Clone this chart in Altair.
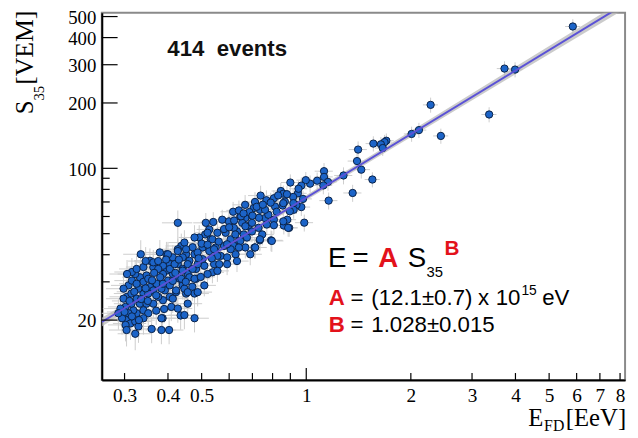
import altair as alt
import pandas as pd

# ---- data -----------------------------------------------------------------
E_FD = [5.85, 3.72, 3.99, 2.28, 3.36, 2.44, 2.01, 2.11, 1.70, 1.68, 1.64, 1.66, 1.56, 1.41, 1.40, 1.44, 1.55, 1.36, 1.28, 1.16,
        1.125, 1.125, 1.155, 1.12, 1.075, 1.026, 0.997, 0.968, 0.946, 0.979, 0.968, 0.987, 0.937, 0.845, 0.859, 0.739, 0.768, 0.807, 0.813, 0.868,
        0.855, 0.917, 0.918, 0.920, 0.882, 0.893, 0.862, 0.807, 0.807, 0.792, 0.747, 0.735, 0.710, 0.690, 0.761, 0.778, 0.736, 0.706, 0.690, 0.668,
        0.646, 0.654, 0.680, 0.698, 0.729, 0.632, 0.661, 0.640, 0.619, 0.668, 0.626, 0.427, 0.514, 0.540, 0.599, 0.649, 0.686, 0.526, 0.512, 0.555,
        0.586, 0.619, 0.668, 0.492, 0.503, 0.526, 0.549, 0.580, 0.606, 0.646, 0.675, 0.640, 0.567, 0.592, 0.537, 0.543, 0.509, 0.482, 0.477, 0.451,
        0.437, 0.427, 0.413, 0.396, 0.405, 0.427, 0.441, 0.461, 0.456, 0.482, 0.441, 0.422, 0.477, 0.400, 0.392, 0.413, 0.396, 0.322, 0.359, 0.403,
        0.386, 0.435, 0.308, 0.315, 0.305, 0.302, 0.303, 0.312, 0.322, 0.325, 0.318, 0.332, 0.325, 0.340, 0.355, 0.371, 0.363, 0.383, 0.405, 0.422,
        0.441, 0.451, 0.405, 0.409, 0.387, 0.347, 0.340, 0.351, 0.387, 0.405, 0.387, 0.418, 0.441, 0.456, 0.432, 0.461, 0.355, 0.363, 0.347, 0.332,
        0.322, 0.334, 0.315, 0.305, 0.325, 0.363, 0.379, 0.400, 0.427, 0.446, 0.477, 0.487, 0.509, 0.477, 0.437, 0.446, 0.487, 0.446, 0.477, 0.383,
        0.302, 0.295, 0.555, 0.606, 0.531, 0.543, 0.520, 0.761, 0.859, 0.897, 0.859, 0.887, 0.796, 0.736, 0.713, 0.383, 0.456, 0.298, 0.292, 0.308,
        0.314, 0.329, 0.340, 0.351, 0.375, 0.363, 0.370, 0.340, 0.329, 0.304, 0.387, 0.413, 0.427, 0.456, 0.375, 0.413, 0.340, 0.325, 0.314, 0.351,
        0.375, 0.471, 0.503, 0.520, 0.562, 0.592, 0.625, 0.698, 0.731, 0.770, 0.822, 0.712, 0.667, 0.616, 0.573, 0.537, 0.471, 0.441, 0.487, 0.451,
        0.555, 0.592, 0.632, 0.497, 0.298, 0.345, 0.288,
        0.310, 0.320, 0.335, 0.345, 0.360, 0.370, 0.380, 0.390, 0.300, 0.315, 0.330, 0.350, 0.365, 0.395, 0.420, 0.430,
        0.450, 0.470, 0.490, 0.500, 0.520, 0.535, 0.560, 0.580, 0.600, 0.620, 0.640, 0.660, 0.700, 0.720, 0.750, 0.790,
        0.830, 0.880, 0.950, 0.900]
S35 = [450, 288, 285, 196, 177, 141, 144, 150, 134, 132, 129, 124, 130, 122, 108, 98.6, 88.8, 77.0, 92.7, 71.0,
       97.0, 91.3, 86.6, 83.4, 87.7, 85.0, 88.2, 83.3, 76.7, 72.3, 66.3, 56.2, 67.7, 78.6, 76.4, 74.9, 71.3, 72.8, 66.7, 70.3,
       67.4, 73.8, 69.1, 64.4, 58.0, 53.2, 54.5, 58.0, 54.7, 46.6, 49.6, 46.6, 43.2, 40.2, 59.0, 61.1, 64.4, 65.6, 61.1, 59.0,
       60.1, 56.1, 54.1, 56.1, 53.2, 51.3, 49.6, 46.3, 43.9, 43.2, 40.2, 56.1, 56.1, 56.6, 57.0, 60.1, 62.9, 52.3, 49.6, 50.5,
       50.5, 53.2, 54.1, 48.0, 43.2, 41.6, 43.2, 43.9, 42.4, 46.3, 48.0, 43.2, 39.5, 38.9, 33.2, 36.2, 28.9, 34.4, 40.2, 40.2,
       43.9, 42.4, 38.9, 40.2, 36.2, 36.2, 34.4, 37.5, 32.6, 31.0, 29.4, 26.9, 26.5, 30.4, 27.4, 32.6, 33.8, 17.3, 18.2, 18.0,
       20.4, 21.0, 28.9, 30.4, 25.6, 23.0, 20.0, 19.3, 19.7, 21.5, 22.2, 23.8, 25.1, 26.5, 28.4, 29.4, 27.4, 27.9, 28.9, 27.4,
       28.9, 26.5, 25.6, 23.0, 24.7, 23.8, 22.2, 21.5, 32.6, 34.4, 35.6, 36.2, 33.8, 36.2, 31.0, 31.5, 37.5, 35.0, 32.1, 31.5,
       32.6, 40.2, 33.3, 32.6, 34.4, 36.9, 41.0, 40.2, 41.6, 45.5, 48.0, 41.0, 35.6, 31.0, 31.0, 27.9, 26.9, 21.1, 20.4, 20.4,
       19.0, 20.4, 39.5, 47.1, 47.1, 42.4, 50.5, 64.4, 69.1, 63.4, 57.0, 53.2, 46.3, 47.1, 43.2, 18.0, 26.9, 25.1, 22.6, 21.5,
       23.8, 27.9, 30.0, 26.5, 25.6, 23.8, 22.1, 20.4, 18.7, 18.0, 29.4, 25.1, 22.6, 23.8, 34.4, 30.3, 35.1, 29.4, 26.5, 31.0,
       37.4, 34.4, 38.2, 32.6, 36.2, 44.7, 49.6, 51.2, 59.2, 55.1, 63.1, 70.0, 67.9, 63.1, 58.0, 47.1, 43.3, 38.9, 36.2, 42.4,
       33.7, 36.2, 37.4, 31.6, 27.9, 37.4, 21.5,
       24.5, 27.0, 25.0, 28.0, 30.5, 26.0, 31.5, 22.5, 21.8, 20.8, 20.0, 24.5, 33.0, 38.0, 33.0, 38.0,
       30.0, 28.5, 38.5, 45.0, 44.5, 38.5, 46.0, 52.5, 53.5, 57.5, 64.0, 62.0, 60.5, 66.5, 68.0, 69.5,
       75.0, 76.0, 80.5, 86.0]

# relative half-lengths of the grey error bars, read per energy band
ERR_EDGES = [0.35, 0.5, 0.8, 1.5]            # EeV
ERR_REL_E = [0.11, 0.10, 0.08, 0.06, 0.05]
ERR_REL_S = [0.16, 0.14, 0.11, 0.09, 0.08]

# calibration fit E = A S35^B, end points of the drawn line and its grey band
FIT_E = [0.258, 8.27]
FIT_S = [19.6, 572]
BAND_E = [0.258, 0.6, 1.5, 4.0, 8.27]
BAND_LO = [18.7, 43.5, 105.5, 271, 543]
BAND_HI = [20.5, 45.7, 112, 294, 600]

Y_MAJOR = [20, 100, 200, 300, 400, 500]
Y_MINOR = [30, 40, 50, 60, 70, 80, 90]
X_MAJOR = [1]
X_MINOR = [0.3, 0.4, 0.5, 0.6, 0.7, 0.8, 0.9, 2, 3, 4, 5, 6, 7, 8]
X_LABELS = [0.3, 0.4, 0.5, 1, 2, 3, 4, 5, 6, 7, 8]

# ---- tables ---------------------------------------------------------------
rows = []
for e, s in zip(E_FD, S35):
    k = sum(1 for edge in ERR_EDGES if e >= edge)
    rx, ry = ERR_REL_E[k], ERR_REL_S[k]
    rows.append(dict(E=e, S=s, E_lo=e * (1 - rx), E_hi=e * (1 + rx), S_lo=s * (1 - ry), S_hi=s * (1 + ry)))
pts = pd.DataFrame(rows)
fit = pd.DataFrame({"E": FIT_E, "S": FIT_S})
band = pd.DataFrame({"E": BAND_E, "lo": BAND_LO, "hi": BAND_HI})

W, H = 530, 372
xs = alt.Scale(type="log", domain=[0.258, 8.27], nice=False)
ys = alt.Scale(type="log", domain=[10.6, 521], nice=False)

SERIF = "Liberation Serif"
SANS = "Liberation Sans"
RED = "#e3121b"

XAX = alt.Axis(values=X_LABELS, format="~g", title=None, labelOverlap=False, labelPadding=7,
               ticks=False, grid=False, domainColor="black", domainWidth=2,
               labelFont=SERIF, labelFontSize=19.5, labelColor="black")
YAX = alt.Axis(values=Y_MAJOR, format="~g", title=None, labelOverlap=False, labelPadding=6,
               ticks=False, grid=False, domainColor="black", domainWidth=2, labelOffset=1,
               labelFont=SERIF, labelFontSize=19, labelColor="black")


def X(field):
    return alt.X(field, type="quantitative", scale=xs, axis=XAX)


def Y(field):
    return alt.Y(field, type="quantitative", scale=ys, axis=YAX)


vbars = alt.Chart(pts).mark_rule(color="#cdcdcd", strokeWidth=1, clip=True).encode(
    x=X("E"), y=Y("S_lo"), y2="S_hi:Q")
hbars = alt.Chart(pts).mark_rule(color="#cdcdcd", strokeWidth=1, clip=True).encode(
    x=X("E_lo"), x2="E_hi:Q", y=Y("S"))

band_l = alt.Chart(band).mark_area(color="#b9b9b9", opacity=0.75, clip=True).encode(
    x=X("E"), y=Y("lo"), y2="hi:Q")

points = alt.Chart(pts).mark_circle(color="#1c64c8", stroke="#0a2246", strokeWidth=1, size=55, opacity=1,
                                    clip=True).encode(x=X("E"), y=Y("S"))

line = alt.Chart(fit).mark_line(color="#5b52d6", strokeWidth=2, clip=True).encode(x=X("E"), y=Y("S"))


def yticks(vals, length):
    return alt.Chart(pd.DataFrame({"S": vals})).mark_rule(
        color="black", strokeWidth=1.2).encode(y=Y("S"), x=alt.value(0), x2=alt.value(length))


def xticks(vals, length):
    return alt.Chart(pd.DataFrame({"E": vals})).mark_rule(color="black", strokeWidth=1.2).encode(
        x=X("E"), y=alt.value(H), y2=alt.value(H - length))


def txt(text, x, y, size, color="black", font=SANS, weight="normal", angle=0, align="left"):
    kw = dict(text=text, align=align, baseline="alphabetic", fontSize=size, font=font,
              fontWeight=weight, color=color)
    if angle:
        kw["angle"] = angle
    return alt.Chart(pd.DataFrame({"a": [0]})).mark_text(**kw).encode(x=alt.value(x), y=alt.value(y))


texts = [
    txt("414\u00a0\u00a0events", 127, 44, 22.5, "#111", weight="bold", align="center"),
    # E = A S35^B
    txt("E", 229, 258, 28),
    txt("=", 254, 258, 28),
    txt("A", 280, 258, 28, RED, weight="bold"),
    txt("S", 310, 258, 28),
    txt("35", 329, 268, 15),
    txt("B", 347, 245, 21, RED, weight="bold"),
    # A = (12.1±0.7) x 10^15 eV
    txt("A", 230, 296, 22.5, RED, weight="bold"),
    txt("=", 252, 296, 22.5),
    txt("(12.1±0.7)", 273, 296, 22.5),
    txt("x", 381, 296, 22.5),
    txt("10", 399, 296, 22.5),
    txt("15", 425, 286, 14),
    txt("eV", 446, 296, 22.5),
    # B = 1.028±0.015
    txt("B", 230, 323, 22.5, RED, weight="bold"),
    txt("=", 252, 323, 22.5),
    txt("1.028±0.015", 273, 323, 22.5),
    # axis titles
    txt("S", -70, 103, 25, font=SERIF, angle=270),
    txt("35", -59, 89, 15, font=SERIF, angle=270),
    txt("[VEM]", -70, 73, 26, font=SERIF, angle=270),
    txt("E", 432, 419, 25, font=SERIF),
    txt("FD", 448, 424, 16, font=SERIF),
    txt("[EeV]", 470, 419, 25, font=SERIF),
]

chart = alt.layer(
    vbars, hbars, band_l, points, line,
    yticks(Y_MAJOR, 16), yticks(Y_MINOR, 8), xticks(X_MAJOR, 12), xticks(X_MINOR, 7),
    *texts,
).properties(
    width=W, height=H,
    autosize=alt.AutoSizeParams(type="none"),
    padding={"left": 95, "top": 2, "right": 5, "bottom": 52},
).configure_view(
    stroke="#8a8a8a", strokeWidth=2
)

chart.save("out.html", embed_options={"renderer": "svg", "actions": False})
